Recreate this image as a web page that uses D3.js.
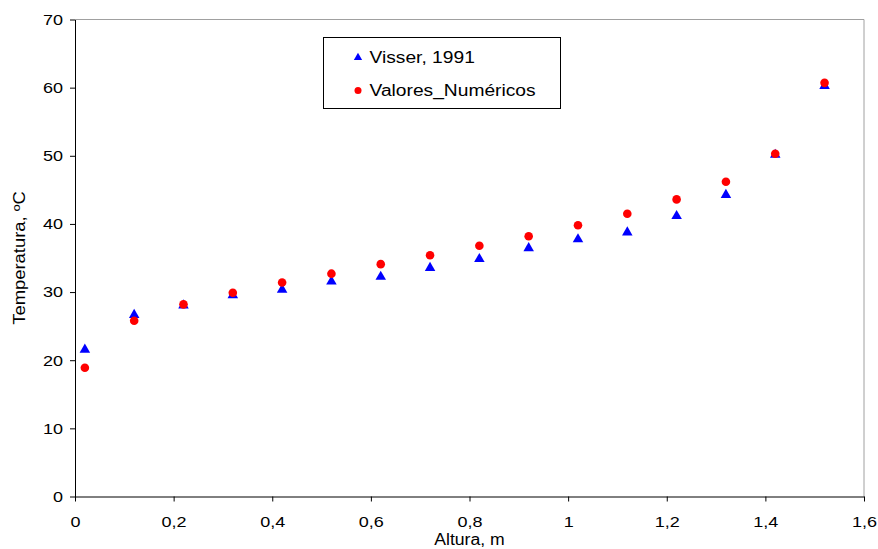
<!DOCTYPE html>
<html>
<head>
<meta charset="utf-8">
<script src="https://cdn.jsdelivr.net/npm/d3@7"></script>
<style>
  body { margin: 0; background: #fff; }
  text { font-family: "Liberation Sans", Arial, sans-serif; }
</style>
</head>
<body>
<div class="container"></div>
<script>
var altura = [0.02, 0.12, 0.22, 0.32, 0.42, 0.52, 0.62, 0.72, 0.82, 0.92, 1.02, 1.12, 1.22, 1.32, 1.42, 1.52];
var visser = [21.7, 26.8, 28.2, 29.7, 30.5, 31.7, 32.4, 33.7, 35.0, 36.6, 37.9, 38.9, 41.3, 44.4, 50.3, 60.4];
var numericos = [18.9, 25.8, 28.2, 29.9, 31.4, 32.7, 34.1, 35.4, 36.8, 38.2, 39.8, 41.5, 43.6, 46.2, 50.3, 60.7];
var xTicks = [0, 0.2, 0.4, 0.6, 0.8, 1, 1.2, 1.4, 1.6];
var yTicks = [0, 10, 20, 30, 40, 50, 60, 70];
var seriesNames = ["Visser, 1991", "Valores_Numéricos"];

var width = 878, height = 549;
var margin = {top: 19.5, right: 14, bottom: 52.5, left: 75};

var svg = d3.select("div.container").append("svg")
    .attr("width", width)
    .attr("height", height);

var x = d3.scaleLinear().domain([0, 1.6]).range([margin.left, width - margin.right]);
var y = d3.scaleLinear().domain([0, 70]).range([height - margin.bottom, margin.top]);

var fmt = function(d) { return String(d).replace(".", ","); };

// the original text is a bit wider than Arial, stretch it
function stretch(sel, k) {
    sel.each(function() {
        var len = this.getComputedTextLength();
        d3.select(this).attr("textLength", len * k).attr("lengthAdjust", "spacingAndGlyphs");
    });
}

// frame: grey top and right
svg.append("path")
    .attr("d", "M" + x(0) + "," + y(70) + "H" + x(1.6) + "V" + y(0))
    .attr("fill", "none")
    .attr("stroke", "#a0a0a0")
    .attr("stroke-width", 1);

var xAxis = svg.append("g")
    .attr("transform", "translate(0," + y(0) + ")")
    .call(d3.axisBottom(x).tickValues(xTicks).tickFormat(fmt).tickSize(5).tickSizeOuter(0));
var yAxis = svg.append("g")
    .attr("transform", "translate(" + x(0) + ",0)")
    .call(d3.axisLeft(y).tickValues(yTicks).tickSize(5).tickSizeOuter(0));

[xAxis, yAxis].forEach(function(g) {
    g.select(".domain").attr("stroke", "#000");
    g.selectAll(".tick line").attr("stroke", "#000");
    g.selectAll(".tick text")
        .attr("font-family", "'Liberation Sans', Arial, sans-serif")
        .attr("font-size", 15)
        .attr("fill", "#000");
});
xAxis.selectAll(".tick text").attr("dy", "1.5em");
yAxis.selectAll(".tick text").attr("x", -12);
stretch(xAxis.selectAll(".tick text"), 1.2);
stretch(yAxis.selectAll(".tick text"), 1.2);

var xTitle = svg.append("text")
    .attr("x", (x(0) + x(1.6)) / 2)
    .attr("y", 545)
    .attr("text-anchor", "middle")
    .attr("font-size", 16)
    .text("Altura, m");
stretch(xTitle, 1.1);

var yTitle = svg.append("text")
    .attr("transform", "translate(25," + ((y(0) + y(70)) / 2) + ") rotate(-90)")
    .attr("text-anchor", "middle")
    .attr("font-size", 16)
    .text("Temperatura, ºC");
stretch(yTitle, 1.15);

var tri = d3.symbol().type(d3.symbolTriangle).size(48);

svg.append("g").selectAll("path")
    .data(altura)
    .enter().append("path")
    .attr("d", tri)
    .attr("transform", function(d, i) { return "translate(" + x(d) + "," + (y(visser[i]) + 1) + ")"; })
    .attr("fill", "#0000ff");

svg.append("g").selectAll("circle")
    .data(altura)
    .enter().append("circle")
    .attr("cx", function(d) { return x(d); })
    .attr("cy", function(d, i) { return y(numericos[i]); })
    .attr("r", 4.3)
    .attr("fill", "#ff0000");

// legend
var legend = svg.append("g").attr("transform", "translate(323.5,37.5)");
legend.append("rect")
    .attr("width", 237)
    .attr("height", 71)
    .attr("fill", "#fff")
    .attr("stroke", "#000");
legend.append("path")
    .attr("d", d3.symbol().type(d3.symbolTriangle).size(30))
    .attr("transform", "translate(34.5,20)")
    .attr("fill", "#0000ff");
legend.append("circle")
    .attr("cx", 34.5).attr("cy", 53).attr("r", 3.5)
    .attr("fill", "#ff0000");
var lgText = legend.selectAll("text.lg")
    .data(seriesNames)
    .enter().append("text")
    .attr("class", "lg")
    .attr("x", 46)
    .attr("y", function(d, i) { return 25 + i * 33; })
    .attr("font-size", 16)
    .text(function(d) { return d; });
stretch(lgText, 1.2);
</script>
</body>
</html>
